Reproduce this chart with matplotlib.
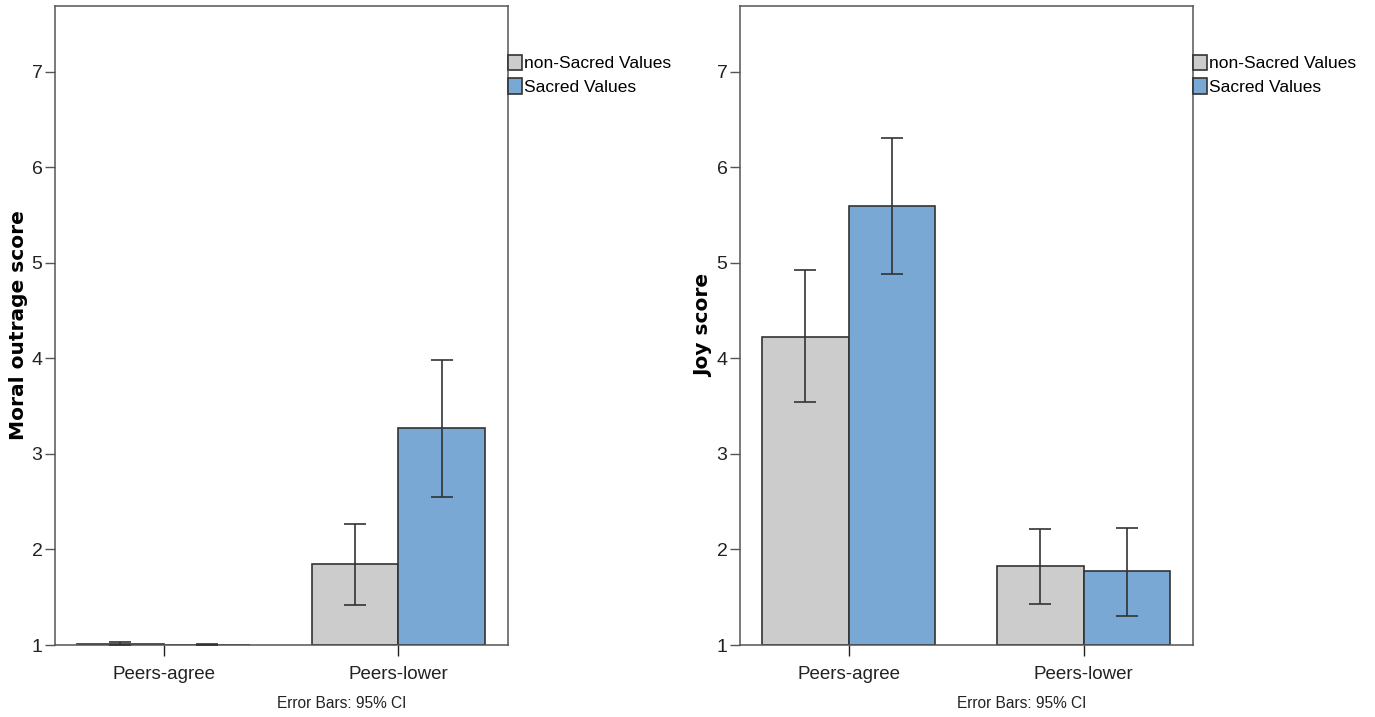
import numpy as np
import matplotlib.pyplot as plt

categories = ['Peers-agree', 'Peers-lower']
series = ['non-Sacred Values', 'Sacred Values']

# Moral outrage score: means and 95% CI bounds
outrage_non = [1.015, 1.85]
outrage_non_lo = [1.0, 1.42]
outrage_non_hi = [1.035, 2.27]
outrage_sac = [1.003, 3.27]
outrage_sac_lo = [1.0, 2.55]
outrage_sac_hi = [1.006, 3.98]

# Joy score: means and 95% CI bounds
joy_non = [4.23, 1.83]
joy_non_lo = [3.54, 1.43]
joy_non_hi = [4.93, 2.21]
joy_sac = [5.60, 1.77]
joy_sac_lo = [4.88, 1.30]
joy_sac_hi = [6.31, 2.23]

yticks = [1, 2, 3, 4, 5, 6, 7]

narrow = ['Liberation Sans', 'DejaVu Sans']
colors = ['#cccccc', '#7aa8d4']
edge = '#333333'
spine_col = '#555555'
width = 0.369

fig = plt.figure(figsize=(13.75, 7.17), dpi=100)
ax1 = fig.add_axes([0.04, 0.1004, 0.3292, 0.8912])
ax2 = fig.add_axes([0.5382, 0.1004, 0.3292, 0.8912])


def draw(ax, means, los, his, ylabel, err_x):
    x = np.arange(len(categories))
    handles = []
    for i, (m, lo, hi) in enumerate(zip(means, los, his)):
        pos = x + (i - 0.5) * width
        m = np.array(m)
        b = ax.bar(pos, m - 1, bottom=1, width=width, color=colors[i],
                   edgecolor=edge, linewidth=1.2, label=series[i], zorder=2)
        handles.append(b)
        yerr = [m - np.array(lo), np.array(hi) - m]
        ax.errorbar(pos, m, yerr=yerr, fmt='none', ecolor=edge,
                    elinewidth=1.2, capsize=8, capthick=1.2, zorder=3)
    ax.set_xlim(-0.463, 1.465)
    ax.set_ylim(1, 7.69)
    ax.set_yticks(yticks)
    ax.set_yticklabels([str(t) for t in yticks], family=narrow, fontsize=14,
                       color='#222222')
    ax.set_xticks(x)
    ax.set_xticklabels(categories, family=narrow, fontsize=13.5, color='#222222')
    ax.tick_params(axis='y', length=7, width=1, color=spine_col, pad=2)
    ax.tick_params(axis='x', length=8, width=1, color='#222222', pad=7)
    for s in ax.spines.values():
        s.set_color(spine_col)
        s.set_linewidth(1.1)
    ax.set_ylabel(ylabel, fontsize=14.5, fontweight='bold', family='DejaVu Sans')
    ax.yaxis.set_label_coords(-0.06, 0.5)
    ax.legend(handles=handles, loc='upper left', bbox_to_anchor=(1.0, 0.924),
              frameon=False, prop={'family': narrow, 'size': 12.5},
              handlelength=0.8, handleheight=1.0, handletextpad=0.15,
              labelspacing=0.4, borderaxespad=0, borderpad=0)
    fig.text(err_x, 1 - 703 / 717, 'Error Bars: 95% CI', family=narrow,
             fontsize=11.2, ha='center', va='center', color='#222222')


draw(ax1, [outrage_non, outrage_sac], [outrage_non_lo, outrage_sac_lo],
     [outrage_non_hi, outrage_sac_hi], 'Moral outrage score', 342 / 1375)
draw(ax2, [joy_non, joy_sac], [joy_non_lo, joy_sac_lo],
     [joy_non_hi, joy_sac_hi], 'Joy score', 1022 / 1375)

plt.savefig('out.png', dpi=100)
